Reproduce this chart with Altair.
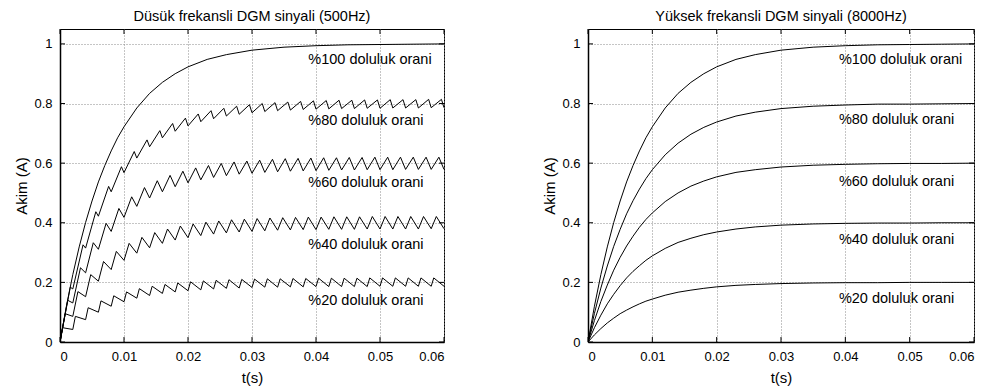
import altair as alt
import pandas as pd

# ---------------- data ----------------
PERIOD = 0.002          # 500 Hz PWM period (left panel)
DUTIES = [0.2, 0.4, 0.6, 0.8]

# left panel: current at the end of each "on" interval (peaks) and end of each period (troughs)
P20 = [.048, .086, .115, .138, .155, .168, .179, .187, .193, .198, .202, .205, .207, .209, .210,
       .211, .212, .212, .213, .213, .214, .214, .214, .214, .215, .215, .215, .215, .215, .215]
V20 = [.042, .075, .100, .120, .135, .147, .156, .163, .168, .172, .175, .178, .180, .181, .183,
       .184, .184, .185, .185, .186, .186, .186, .186, .186, .187, .187, .187, .187, .187, .187]
P40 = [.095, .169, .226, .270, .304, .331, .351, .367, .379, .389, .396, .402, .406, .410, .412,
       .414, .416, .417, .418, .419, .419, .420, .420, .420, .421, .421, .421, .421, .421, .421]
V40 = [.086, .152, .204, .243, .274, .298, .316, .331, .342, .350, .357, .362, .366, .369, .371,
       .373, .375, .376, .377, .377, .378, .378, .378, .379, .379, .379, .379, .379, .380, .380]
P60 = [.140, .249, .333, .398, .448, .487, .518, .541, .559, .573, .584, .592, .599, .604, .607,
       .610, .613, .615, .616, .617, .618, .618, .619, .619, .620, .620, .620, .620, .620, .620]
V60 = [.131, .232, .311, .371, .418, .455, .483, .504, .521, .534, .544, .552, .558, .563, .566,
       .569, .571, .573, .574, .575, .576, .577, .577, .578, .578, .578, .579, .579, .579, .579]
P80 = [.184, .326, .437, .522, .588, .639, .678, .709, .733, .751, .765, .776, .784, .791, .796,
       .800, .803, .805, .807, .809, .810, .811, .811, .812, .812, .813, .813, .813, .814, .814]
V80 = [.178, .315, .422, .504, .568, .617, .655, .685, .707, .725, .739, .749, .758, .764, .769,
       .773, .776, .778, .780, .781, .782, .783, .783, .784, .784, .785, .785, .785, .786, .786]

# smooth curves (100 % duty in both panels, all duties in the 8000 Hz panel)
T_SMOOTH = [0, .001, .002, .003, .004, .005, .006, .007, .008, .009, .010, .012, .014, .016,
            .018, .020, .023, .026, .030, .035, .040, .045, .050, .055, .060]
I100 = [0, .120, .226, .319, .401, .473, .537, .592, .641, .685, .722, .785, .834, .871,
        .900, .923, .948, .964, .979, .989, .994, .997, .998, .999, 1.000]
R80 = [0, .096, .181, .255, .321, .378, .430, .474, .513, .548, .578, .628, .667, .697,
       .720, .738, .758, .771, .783, .791, .795, .798, .798, .799, .800]
R60 = [0, .072, .136, .191, .241, .284, .322, .355, .385, .411, .433, .471, .500, .523,
       .540, .554, .569, .578, .587, .593, .596, .598, .599, .599, .600]
R40 = [0, .048, .090, .128, .160, .189, .215, .237, .256, .274, .289, .314, .334, .348,
       .360, .369, .379, .386, .392, .396, .398, .399, .399, .400, .400]
R20 = [0, .024, .045, .064, .080, .095, .107, .118, .128, .137, .144, .157, .167, .174,
       .180, .185, .190, .193, .196, .198, .199, .199, .200, .200, .200]

LABELS = ["%100 doluluk orani", "%80 doluluk orani", "%60 doluluk orani",
          "%40 doluluk orani", "%20 doluluk orani"]
LABEL_Y_LEFT = [0.945, 0.741, 0.533, 0.325, 0.137]
LABEL_Y_RIGHT = [0.945, 0.744, 0.537, 0.342, 0.144]
LABEL_X_LEFT = 0.0388
LABEL_X_RIGHT = 0.039

X_TICKS = [0, 0.01, 0.02, 0.03, 0.04, 0.05, 0.06]
Y_TICKS = [0, 0.2, 0.4, 0.6, 0.8, 1.0]

TITLE_LEFT = "Düsük frekansli DGM sinyali (500Hz)"
TITLE_RIGHT = "Yüksek frekansli DGM sinyali (8000Hz)"

FONT = "Liberation Sans"

# ---------------- tables ----------------
left_rows = []
for d, peaks, troughs in zip(DUTIES, [P20, P40, P60, P80], [V20, V40, V60, V80]):
    o = 0
    left_rows.append({"s": f"d{d}", "t": 0.0, "i": 0.0, "o": o})
    for k, (p, v) in enumerate(zip(peaks, troughs)):
        o += 1
        left_rows.append({"s": f"d{d}", "t": k * PERIOD + d * PERIOD, "i": p, "o": o})
        o += 1
        left_rows.append({"s": f"d{d}", "t": (k + 1) * PERIOD, "i": v, "o": o})
for o, (t, v) in enumerate(zip(T_SMOOTH, I100)):
    left_rows.append({"s": "d1", "t": t, "i": v, "o": o})
left_df = pd.DataFrame(left_rows)

right_rows = []
for name, vals in [("d1", I100), ("d0.8", R80), ("d0.6", R60), ("d0.4", R40), ("d0.2", R20)]:
    for o, (t, v) in enumerate(zip(T_SMOOTH, vals)):
        right_rows.append({"s": name, "t": t, "i": v, "o": o})
right_df = pd.DataFrame(right_rows)

left_lab = pd.DataFrame({"label": LABELS, "t": [LABEL_X_LEFT] * 5, "i": LABEL_Y_LEFT})
right_lab = pd.DataFrame({"label": LABELS, "t": [LABEL_X_RIGHT] * 5, "i": LABEL_Y_RIGHT})

xt_df = pd.DataFrame({"t": X_TICKS})
yt_df = pd.DataFrame({"i": Y_TICKS})

H = 313


def panel(lines_df, lab_df, title, width, sw):
    x = alt.X("t:Q", scale=alt.Scale(domain=[0, 0.06], nice=False, zero=False),
              axis=alt.Axis(values=X_TICKS, format=".2~f", title="t(s)", titlePadding=7))
    y = alt.Y("i:Q", scale=alt.Scale(domain=[0, 1.05], nice=False),
              axis=alt.Axis(values=Y_TICKS, format="~g", title="Akim (A)", titlePadding=4))
    lines = alt.Chart(lines_df).mark_line(color="black", strokeWidth=sw, clip=True).encode(
        x=x, y=y, detail="s:N", order="o:Q")
    text = alt.Chart(lab_df).mark_text(align="left", baseline="middle", fontSize=14.5,
                                       font=FONT, color="black").encode(
        x="t:Q", y="i:Q", text="label:N")
    tick_top = alt.Chart(xt_df).mark_rule(color="black").encode(
        x="t:Q", y=alt.value(0), y2=alt.value(5))
    tick_bot = alt.Chart(xt_df).mark_rule(color="black").encode(
        x="t:Q", y=alt.value(H), y2=alt.value(H - 5))
    tick_left = alt.Chart(yt_df).mark_rule(color="black").encode(
        y="i:Q", x=alt.value(0), x2=alt.value(5))
    tick_right = alt.Chart(yt_df).mark_rule(color="black").encode(
        y="i:Q", x=alt.value(width), x2=alt.value(width - 5))
    return alt.layer(lines, text, tick_top, tick_bot, tick_left, tick_right).properties(
        width=width, height=H,
        title=alt.TitleParams(text=title, fontSize=14.5, fontWeight="normal", font=FONT,
                              color="black", offset=4, anchor="middle"))


left = panel(left_df, left_lab, TITLE_LEFT, 384, 1)
right = panel(right_df, right_lab, TITLE_RIGHT, 386, 1)

chart = alt.hconcat(left, right, spacing=97).properties(
    padding={"left": 6, "top": 0, "right": 5, "bottom": 0},
    background="white",
).configure_axis(
    labelFont=FONT, titleFont=FONT, labelFontSize=13, titleFontSize=15,
    labelColor="black", titleColor="black", titleFontWeight="normal",
    grid=True, gridColor="#8a8a8a", gridDash=[1, 2], gridWidth=1,
    tickSize=0, domainColor="black", domainWidth=1.5,
    labelPadding=8,
).configure_view(stroke="black", strokeWidth=1)

chart.save("out.html", embed_options={"renderer": "svg", "actions": False})
